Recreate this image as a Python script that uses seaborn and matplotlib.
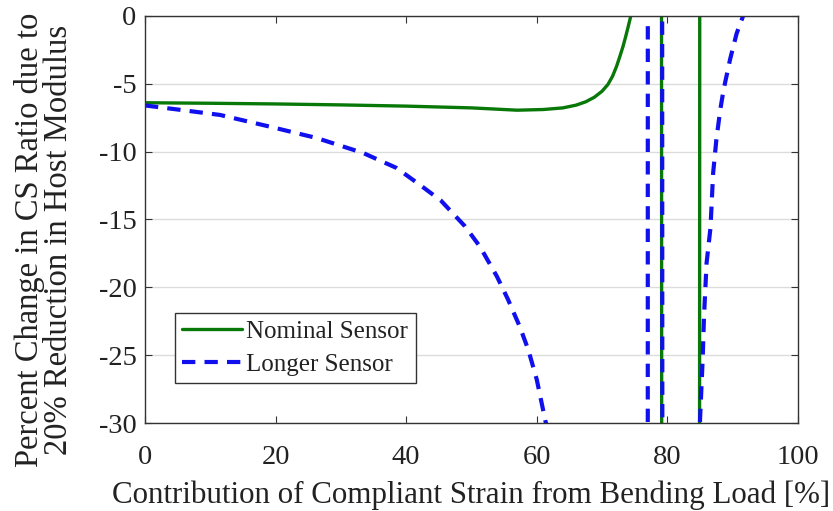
import numpy as np
import pandas as pd
import matplotlib
matplotlib.use("Agg")
import matplotlib.pyplot as plt
import seaborn as sns

# ---- data ----
nominal_x = [0, 10, 20, 30, 40, 50, 57.0, 61.0, 64.0, 66.0, 67.5, 68.8, 70.0, 70.9, 71.6, 72.2,
             72.7, 73.2, 73.6, 74.0, 74.4, 74.8, 75.5, 77.0, 79.05, 79.15, 82.0, 84.9, 85.0,
             90.0, 100.0]
nominal_y = [-6.40, -6.44, -6.49, -6.56, -6.65, -6.78, -6.95, -6.90, -6.78, -6.58, -6.33, -6.00,
             -5.55, -5.05, -4.45, -3.74, -3.02, -2.26, -1.55, -0.79, 0.0, 0.8, 2.5, 8.0, 60.0,
             -60.0, -80.0, -60.0, 60.0, 60.0, 60.0]

longer_x = [0, 5, 11.5, 19.1, 26.3, 33.4, 38.5, 42.1, 45.3, 49.0, 51.3, 53.9, 55.6, 57.4, 58.7,
            60.0, 61.3, 63.0, 68.0, 76.95, 77.05, 78.0, 79.15, 79.25, 82.0, 85.0, 85.4, 85.6,
            86.0, 86.6, 87.0, 87.5, 88.1, 88.6, 89.6, 90.6, 91.6, 93.0, 100.0]
longer_y = [-6.60, -6.90, -7.30, -8.16, -9.00, -10.1, -11.2, -12.45, -13.6, -15.5, -17.0, -19.2,
            -20.9, -22.9, -24.6, -26.8, -29.8, -33.0, -45.0, -300.0, 300.0, 100.0, 60.0, -60.0,
            -100.0, -29.7, -25.3, -22.2, -18.2, -15.6, -11.6, -9.1, -6.9, -5.45, -3.2, -1.3, 0.0,
            2.0, 10.0]

series_labels = ["Nominal Sensor", "Longer Sensor"]
x_ticks = [0, 20, 40, 60, 80, 100]
y_ticks = [0, -5, -10, -15, -20, -25, -30]
x_label = "Contribution of Compliant Strain from Bending Load [%]"
y_label = "Percent Change in CS Ratio due to\n20% Reduction in Host Modulus"

sns.set_theme(style="white")
plt.rcParams["font.family"] = ["Liberation Serif", "DejaVu Serif"]

fig = plt.figure(figsize=(8.33, 5.11), dpi=100)
ax = fig.add_axes([0.174, 0.172, 0.784, 0.797])

df_nom = pd.DataFrame({"x": nominal_x, "y": nominal_y})
df_lon = pd.DataFrame({"x": longer_x, "y": longer_y})

sns.lineplot(data=df_nom, x="x", y="y", ax=ax, sort=False, estimator=None,
             color="#087808", linewidth=2.4, label=series_labels[0])
sns.lineplot(data=df_lon, x="x", y="y", ax=ax, sort=False, estimator=None,
             color="#1010ee", linewidth=3.0, label=series_labels[1])
ax.lines[1].set_dashes((3.2, 2.2))

ax.set_xlim(0, 100)
ax.set_ylim(-30, 0)
ax.set_xticks(x_ticks)
ax.set_yticks(y_ticks)
ax.set_xticklabels([str(t) for t in x_ticks])
ax.set_yticklabels([str(t) for t in y_ticks])

ax.yaxis.grid(True, color="#dcdcdc", linewidth=1.0)
ax.xaxis.grid(False)
ax.set_axisbelow(True)

for s in ax.spines.values():
    s.set_color("#333333")
    s.set_linewidth(1.0)
    s.set_visible(True)

ax.tick_params(axis="both", which="both", direction="in", length=5, width=0.8,
               top=True, right=True, bottom=True, left=True, colors="#333333",
               labelcolor="#222222", labelsize=20.5)
ax.tick_params(axis="x", pad=16)
ax.tick_params(axis="y", pad=6)

ax.set_xlabel(x_label, fontsize=22.3, color="#222222", va="top")
ax.xaxis.set_label_coords(0.5, -0.142)
ax.set_ylabel(y_label, fontsize=23.5, color="#222222", linespacing=0.95)
ax.yaxis.set_label_coords(-0.108, 0.45)

leg = ax.legend(loc="lower left", bbox_to_anchor=(0.046, 0.098), borderaxespad=0,
                fontsize=18, frameon=True, fancybox=False, shadow=False,
                handlelength=2.4, handletextpad=0.15, labelspacing=0.4,
                borderpad=0.3)
leg.get_frame().set_edgecolor("#333333")
leg.get_frame().set_linewidth(1.0)
leg.get_frame().set_alpha(1.0)
for t in leg.get_texts():
    t.set_color("#222222")

fig.savefig("out.png", dpi=100)
